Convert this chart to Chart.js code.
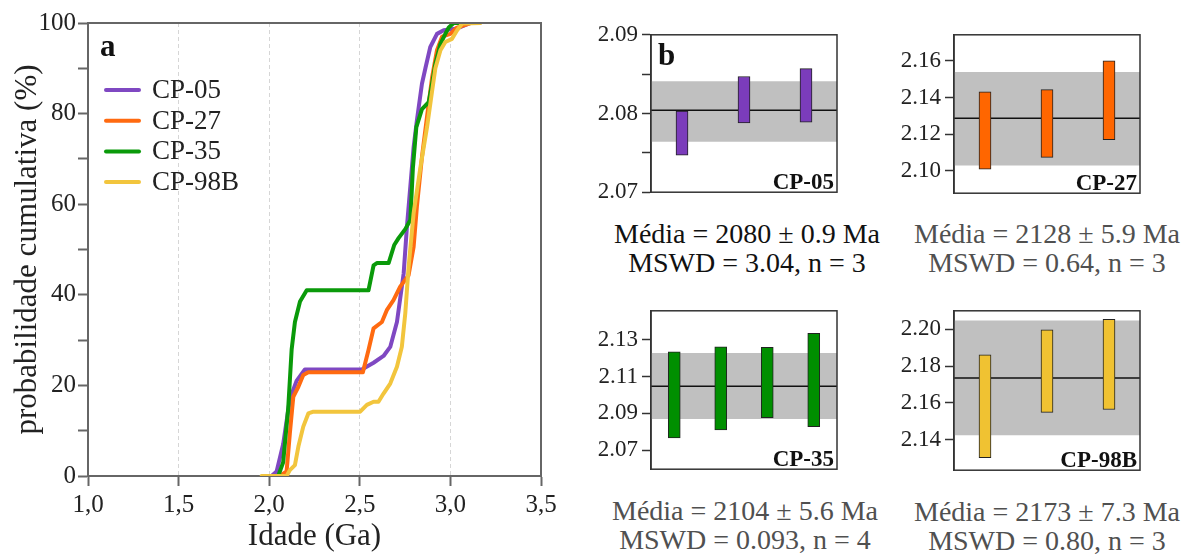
<!DOCTYPE html>
<html>
<head>
<meta charset="utf-8">
<script src="https://cdn.jsdelivr.net/npm/chart.js@4.4.0/dist/chart.umd.min.js"></script>
<style>
body { margin: 0; background: #fff; width: 1190px; height: 555px; overflow: hidden; position: relative; font-family: 'Liberation Serif', 'Times New Roman', serif; }
canvas { position: absolute; }
.stat { position: absolute; width: 320px; text-align: center; white-space: nowrap; font-size: 28px; line-height: 29px; }
</style>
</head>
<body>
<canvas id="cum" width="580" height="555" style="left:0;top:0"></canvas>
<canvas id="p05"></canvas>
<canvas id="p27"></canvas>
<canvas id="p35"></canvas>
<canvas id="p98"></canvas>

<div class="stat" style="left:587px;top:219px;color:#111">Média = 2080 ± 0.9 Ma<br>MSWD = 3.04, n = 3</div>
<div class="stat" style="left:887px;top:219px;color:#505050">Média = 2128 ± 5.9 Ma<br>MSWD = 0.64, n = 3</div>
<div class="stat" style="left:585px;top:496px;color:#505050">Média = 2104 ± 5.6 Ma<br>MSWD = 0.093, n = 4</div>
<div class="stat" style="left:887px;top:497px;color:#505050">Média = 2173 ± 7.3 Ma<br>MSWD = 0.80, n = 3</div>

<script>
const FONT = "'Liberation Serif', 'Times New Roman', serif";

// --- panel a: cumulative probability curves (age in Ga, %)
const sampleNames = ['CP-05', 'CP-27', 'CP-35', 'CP-98B'];
const ages05 = [2.013, 2.041, 2.077, 2.114, 2.151, 2.197, 2.511, 2.576, 2.631, 2.668, 2.705, 2.742, 2.760, 2.779, 2.797, 2.815, 2.843, 2.862, 2.889, 2.926, 2.963, 3.037, 3.111];
const pct05 = [0, 1, 7, 17, 21, 23.5, 23.5, 25, 26.5, 28.5, 34, 44.7, 55, 64, 72.6, 78.5, 86.6, 90, 94.7, 97.6, 98.4, 98.8, 100];
const ages27 = [2.059, 2.096, 2.114, 2.133, 2.161, 2.188, 2.216, 2.517, 2.548, 2.576, 2.622, 2.649, 2.686, 2.723, 2.769, 2.797, 2.815, 2.843, 2.871, 2.899, 2.926, 2.954, 3.000, 3.037, 3.111];
const pct27 = [0, 1, 9.4, 17.5, 19.7, 22.3, 22.9, 22.9, 27.8, 32.6, 34, 36.6, 38.8, 41.8, 44.3, 50.6, 59.4, 70.4, 79.3, 88, 94, 97, 97.6, 99, 100];
const ages35 = [2.050, 2.077, 2.105, 2.124, 2.142, 2.170, 2.207, 2.548, 2.576, 2.594, 2.659, 2.690, 2.714, 2.751, 2.779, 2.793, 2.812, 2.843, 2.880, 2.899, 2.917, 2.945, 2.972, 2.991, 3.018, 3.065];
const pct35 = [0, 3, 15, 28, 34, 38.5, 41, 41, 46.5, 47, 47, 51, 52.5, 54.5, 56.5, 68, 77, 81, 82.5, 86.6, 91, 95.4, 97.6, 99, 100, 100];
const ages98 = [1.958, 2.096, 2.114, 2.142, 2.161, 2.188, 2.216, 2.244, 2.502, 2.539, 2.576, 2.603, 2.631, 2.668, 2.705, 2.732, 2.751, 2.769, 2.797, 2.834, 2.871, 2.899, 2.917, 2.945, 2.972, 3.009, 3.037, 3.065, 3.166];
const pct98 = [0, 0, 1.3, 2.4, 6.5, 10.9, 13.8, 14.2, 14.2, 15.7, 16.4, 16.4, 18.2, 20.4, 24.1, 28.5, 35.9, 46, 58, 68, 77, 85, 90, 94, 95.8, 96.5, 98.4, 99.9, 100];

const lineColors = ['#7f48c2', '#ff6a10', '#0a9a0a', '#f2c53d'];
const barColors = ['#7b3cbb', '#ff6600', '#008f00', '#f0c232'];

// --- panel b: weighted mean plots (Ga)
const lo05 = [2.0747, 2.0788, 2.0789];
const hi05 = [2.0803, 2.0847, 2.0857];
const lo27 = [2.1008, 2.1072, 2.1169];
const hi27 = [2.1431, 2.1443, 2.1601];
const lo35 = [2.0766, 2.0810, 2.0876, 2.0827];
const hi35 = [2.1235, 2.1262, 2.1259, 2.1335];
const lo98 = [2.1302, 2.1548, 2.1564];
const hi98 = [2.1861, 2.1997, 2.2053];
const means = [2.0804, 2.1286, 2.1048, 2.1735];
const bandLo = [2.0764, 2.1027, 2.0869, 2.1424];
const bandHi = [2.0841, 2.1540, 2.1229, 2.2047];
const yRanges = [[2.07, 2.09], [2.0876, 2.1743], [2.0596, 2.1458], [2.1234, 2.2100]];
const ticks05 = [2.07, 2.075, 2.08, 2.085, 2.09];
const tickLabels05 = ['2.07', '', '2.08', '', '2.09'];
const ticks27 = [2.10, 2.12, 2.14, 2.16];
const ticks35 = [2.07, 2.09, 2.11, 2.13];
const ticks98 = [2.14, 2.16, 2.18, 2.20];

const pairs = (xs, ys) => xs.map((x, i) => ({x: x, y: ys[i]}));

const frameA = {
  id: 'frameA',
  afterDraw(chart) {
    const {ctx, chartArea: a} = chart;
    ctx.save();
    ctx.strokeStyle = '#666';
    ctx.lineWidth = 2;
    ctx.beginPath();
    ctx.moveTo(a.left, a.top);
    ctx.lineTo(a.right, a.top);
    ctx.lineTo(a.right, a.bottom);
    ctx.stroke();
    // panel letter
    ctx.fillStyle = '#111';
    ctx.font = 'bold 31px ' + FONT;
    ctx.textBaseline = 'alphabetic';
    ctx.fillText('a', 100, 56);
    // legend
    chart.data.datasets.forEach((ds, i) => {
      const y = 90 + i * 30.7;
      ctx.strokeStyle = ds.borderColor;
      ctx.lineWidth = 4;
      ctx.lineCap = 'round';
      ctx.beginPath();
      ctx.moveTo(106, y);
      ctx.lineTo(139, y);
      ctx.stroke();
      ctx.fillStyle = '#222';
      ctx.font = '27px ' + FONT;
      ctx.textBaseline = 'middle';
      ctx.fillText(ds.label, 152, y + 1);
    });
    ctx.restore();
  }
};

new Chart(document.getElementById('cum'), {
  type: 'line',
  data: {
    datasets: [
      {label: sampleNames[0], data: pairs(ages05, pct05), borderColor: lineColors[0], order: 4},
      {label: sampleNames[1], data: pairs(ages27, pct27), borderColor: lineColors[1], order: 3},
      {label: sampleNames[2], data: pairs(ages35, pct35), borderColor: lineColors[2], order: 2},
      {label: sampleNames[3], data: pairs(ages98, pct98), borderColor: lineColors[3], order: 1}
    ]
  },
  options: {
    responsive: false,
    animation: false,
    layout: {padding: {left: 0, right: 39, top: 23, bottom: 0}},
    elements: {
      point: {radius: 0},
      line: {borderWidth: 4, tension: 0, borderJoinStyle: 'round', borderCapStyle: 'round'}
    },
    plugins: {legend: {display: false}, tooltip: {enabled: false}},
    scales: {
      x: {
        type: 'linear', min: 1, max: 3.5,
        afterFit: s => { s.height = 79; },
        ticks: {
          stepSize: 0.5, maxRotation: 0, padding: 4,
          callback: v => v.toFixed(1).replace('.', ','),
          font: {family: FONT, size: 25}, color: '#222'
        },
        grid: {
          color: c => (c.tick && (c.tick.value === 1 || c.tick.value === 3.5)) ? 'rgba(0,0,0,0)' : '#d6d6d6',
          lineWidth: 1, tickLength: 10, tickColor: '#666', tickWidth: 2
        },
        border: {color: '#666', width: 2, dash: [4, 3]},
        title: {display: true, text: 'Idade (Ga)', font: {family: FONT, size: 31}, color: '#222', padding: {top: 0, bottom: 0}}
      },
      y: {
        min: 0, max: 100,
        afterFit: s => { s.width = 88; },
        ticks: {
          stepSize: 10, padding: 2,
          callback: v => (v % 20 === 0 ? String(v) : ''),
          font: {family: FONT, size: 25}, color: '#222'
        },
        grid: {drawOnChartArea: false, tickLength: 10, tickColor: '#666', tickWidth: 2},
        border: {color: '#666', width: 2},
        title: {display: true, text: 'probabilidade cumulativa (%)', font: {family: FONT, size: 31}, color: '#222', padding: {top: 9, bottom: 0}}
      }
    }
  },
  plugins: [frameA]
});

function meanPanel(id, box, k, lo, hi, tickVals, tickLabels, letter) {
  const n = lo.length;
  const padL = 75, pad = 6;
  const canvas = document.getElementById(id);
  canvas.width = box[2] - box[0] + padL + pad;
  canvas.height = box[3] - box[1] + 2 * pad;
  canvas.style.left = (box[0] - padL) + 'px';
  canvas.style.top = (box[1] - pad) + 'px';

  const deco = {
    id: 'deco' + id,
    afterDraw(chart) {
      const {ctx, chartArea: a} = chart;
      ctx.save();
      ctx.strokeStyle = '#333';
      ctx.lineWidth = 1.5;
      ctx.strokeRect(a.left, a.top, a.right - a.left, a.bottom - a.top);
      ctx.fillStyle = '#111';
      ctx.textBaseline = 'alphabetic';
      ctx.font = 'bold 23px ' + FONT;
      ctx.textAlign = 'right';
      ctx.fillText(sampleNames[k], a.right - 3, a.bottom - 3);
      if (letter) {
        ctx.font = 'bold 31px ' + FONT;
        ctx.textAlign = 'left';
        ctx.fillText(letter, a.left + 7, a.top + 30);
      }
      ctx.restore();
    }
  };

  new Chart(canvas, {
    type: 'bar',
    data: {
      datasets: [
        {type: 'bar', data: lo.map((v, i) => ({x: i + 1, y: [v, hi[i]]})), backgroundColor: barColors[k],
         borderColor: '#222', borderWidth: 1, borderSkipped: false, barThickness: 12, order: 1},
        {type: 'line', data: [{x: 0.5, y: means[k]}, {x: n + 0.5, y: means[k]}], borderColor: '#111',
         borderWidth: 1.5, pointRadius: 0, order: 2},
        {type: 'line', data: [{x: 0.5, y: bandHi[k]}, {x: n + 0.5, y: bandHi[k]}], borderColor: 'rgba(0,0,0,0)',
         borderWidth: 1, pointRadius: 0, fill: '+1', backgroundColor: '#c0c0c0', order: 3},
        {type: 'line', data: [{x: 0.5, y: bandLo[k]}, {x: n + 0.5, y: bandLo[k]}], borderColor: 'rgba(0,0,0,0)',
         borderWidth: 1, pointRadius: 0, order: 4}
      ]
    },
    options: {
      responsive: false,
      animation: false,
      layout: {padding: {left: 0, right: pad, top: pad, bottom: pad}},
      plugins: {legend: {display: false}, tooltip: {enabled: false}},
      scales: {
        x: {type: 'linear', min: 0.5, max: n + 0.5, offset: false, display: false},
        y: {
          min: yRanges[k][0], max: yRanges[k][1],
          afterFit: s => { s.width = padL; },
          afterBuildTicks: s => { s.ticks = tickVals.map(v => ({value: v})); },
          ticks: {
            padding: 4,
            callback: (v, i) => tickLabels[i],
            font: {family: FONT, size: 23}, color: '#222'
          },
          grid: {drawOnChartArea: false, tickLength: 9, tickColor: '#333', tickWidth: 1.5},
          border: {color: '#333', width: 1.5}
        }
      }
    },
    plugins: [deco]
  });
}

meanPanel('p05', [651, 23, 837, 204], 0, lo05, hi05, ticks05, tickLabels05, 'b');
meanPanel('p27', [954, 23, 1140, 205], 1, lo27, hi27, ticks27, ticks27.map(v => v.toFixed(2)), null);
meanPanel('p35', [651, 299, 837, 481], 2, lo35, hi35, ticks35, ticks35.map(v => v.toFixed(2)), null);
meanPanel('p98', [954, 299, 1140, 482], 3, lo98, hi98, ticks98, ticks98.map(v => v.toFixed(2)), null);
</script>
</body>
</html>
